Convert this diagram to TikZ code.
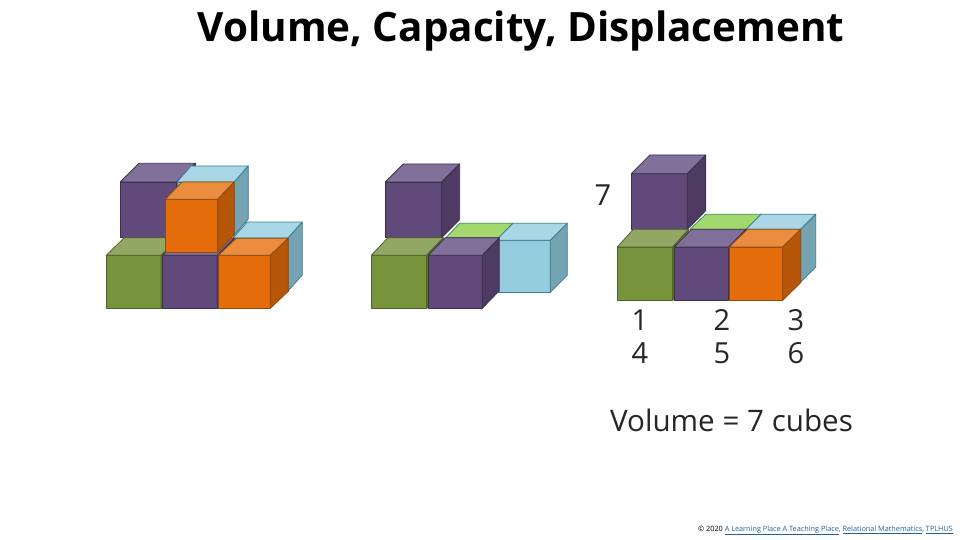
\documentclass[tikz,border=0pt]{standalone}
\usepackage{fontspec}
\setmainfont{Open Sans}
\definecolor{pF}{HTML}{604A7B}\definecolor{pT}{HTML}{80709A}\definecolor{pS}{HTML}{4D3B62}\definecolor{pL}{HTML}{3F3050}
\definecolor{gF}{HTML}{77933C}\definecolor{gT}{HTML}{92A764}\definecolor{gS}{HTML}{5F7630}\definecolor{gL}{HTML}{4F6228}
\definecolor{lF}{HTML}{92D050}\definecolor{lT}{HTML}{A3D86F}\definecolor{lS}{HTML}{75A640}\definecolor{lL}{HTML}{3F8F4F}
\definecolor{bF}{HTML}{93CDDD}\definecolor{bT}{HTML}{A9D7E5}\definecolor{bS}{HTML}{75A3B1}\definecolor{bL}{HTML}{3B7F92}
\definecolor{oF}{HTML}{E46C0A}\definecolor{oT}{HTML}{EA8D3F}\definecolor{oS}{HTML}{B65608}\definecolor{oL}{HTML}{8F4A10}
\definecolor{footblue}{HTML}{1F5F9F}
% #1 colour prefix; #2,#3 front left,right; #4,#5 front top,bottom; #6,#7 depth
\newcommand{\cubeblock}[7]{%
  \draw[cubeedge,draw=#1L,fill=#1F] (#2,-#4) rectangle (#3,-#5);
  \draw[cubeedge,draw=#1L,fill=#1T] (#2,-#4) -- ++(#6,#7) -- ++({#3-#2},0) -- (#3,-#4) -- cycle;
  \draw[cubeedge,draw=#1L,fill=#1S] (#3,-#4) -- ++(#6,#7) -- ++(0,{-(#5-#4)}) -- (#3,-#5) -- cycle;
}
\tikzset{
  cubeedge/.style={line width=0.8pt,line join=round},
  numlabel/.style={font=\fontsize{29}{32}\selectfont,text=black!85,inner sep=0pt,align=center},
}
\begin{document}
\begin{tikzpicture}[x=1pt,y=1pt]
\useasboundingbox (0,-540) rectangle (960,0);
\clip (0,-540) rectangle (960,0);
\fill[white] (0,-540) rectangle (960,0);
\node[font=\bfseries\fontsize{40.4}{46}\selectfont,inner sep=0pt,anchor=base] (title) at (521,-42) {Volume, Capacity, Displacement};
% left group
\cubeblock{b}{233}{288}{238}{291}{14.3}{16}
\cubeblock{p}{120.3}{176.7}{182}{237.7}{18.7}{18.7}
\cubeblock{b}{177}{234.3}{182}{235}{14}{16}
\cubeblock{g}{106.3}{161}{255.3}{308.3}{18}{17.6}
\cubeblock{p}{162.7}{217.3}{255.3}{308.3}{17}{17}
\cubeblock{o}{165.3}{217.7}{199.3}{252.3}{16.6}{17.3}
\cubeblock{o}{218.3}{270.3}{255.3}{308.3}{18}{17}
% middle group
\cubeblock{p}{385.3}{441.7}{182}{237.7}{18}{18}
\cubeblock{l}{446}{499.3}{237.7}{290}{13.5}{14.4}
\cubeblock{b}{496}{550.3}{240.3}{292.3}{17}{17}
\cubeblock{g}{371.3}{426.7}{255.3}{308.3}{16.6}{17.6}
\cubeblock{p}{428.3}{482.3}{255.3}{308.3}{17}{17.6}
% right group
\cubeblock{l}{690}{746}{229.3}{281}{15.7}{15}
\cubeblock{b}{746}{800.7}{229.3}{282}{15}{15}
\cubeblock{p}{631.3}{687.3}{173.7}{229.3}{18.5}{18.7}
\cubeblock{g}{617.3}{672.7}{247}{300.3}{16}{17.7}
\cubeblock{p}{674.3}{728.7}{247}{300.3}{17.3}{17.7}
\cubeblock{o}{729.3}{782.7}{247}{300.3}{18}{17.7}
% labels
\node[numlabel] (seven) at (603,-195) {7};
\node[numlabel] (c1a) at (640,-320) {1};
\node[numlabel] (c1b) at (640,-353) {4};
\node[numlabel] (c2a) at (722,-320) {2};
\node[numlabel] (c2b) at (722,-353) {5};
\node[numlabel] (c3a) at (796,-320) {3};
\node[numlabel] (c3b) at (796,-353) {6};
\node[font=\fontsize{29.6}{32}\selectfont,text=black!85,inner sep=0pt] (vol) at (731.5,-420) {Volume = 7 cubes};
% footer
\node[anchor=west,font=\fontsize{7.3}{9}\selectfont,inner sep=0pt] (foot) at (698,-530.5) {\textcolor{black}{© 2020} \textcolor{footblue}{\underline{A Learning Place A Teaching Place}, \underline{Relational Mathematics}, \underline{TPLHUS}}};
\end{tikzpicture}
\end{document}
